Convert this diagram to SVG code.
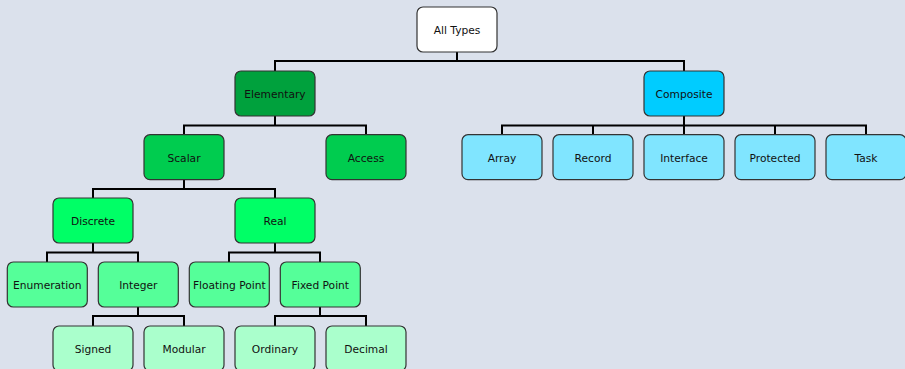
<svg xmlns="http://www.w3.org/2000/svg" width="905" height="369" viewBox="0 0 905 369">
<style>
.n rect{stroke:#333;stroke-width:1.2}
.n text{font-family:"DejaVu Sans",sans-serif;font-size:10.67px;fill:#111;text-anchor:middle;dominant-baseline:central}
.c path{fill:none;stroke:#000;stroke-width:2}
.l0{fill:#fff}.l1{fill:#00a13d}.l2{fill:#00cc4f}.l3{fill:#00ff66}.l4{fill:#55ff99}.l5{fill:#aaffcc}
.c1{fill:#00ccff}.c2{fill:#80e5ff}
</style>
<rect width="905" height="369" fill="#dbe1ec"/>
<g class="c">
<path d="M457 52V61M275 71V61H684V71"/>
<path d="M275 116V125.5M184 134.7V125.5H366V134.7"/>
<path d="M684 116V125.5M502 134.7V125.5H866V134.7M593 125.5V134.7M684 125.5V134.7M775 125.5V134.7"/>
<path d="M184 180V189M93 198V189H275V198"/>
<path d="M93 243V252.5M47 262V252.5H138V262"/>
<path d="M275 243V252.5M229 262V252.5H320V262"/>
<path d="M138 307V316M93 326V316H184V326"/>
<path d="M320 307V316M275 326V316H366V326"/>
</g>
<g id="alltypes" class="n"><rect class="l0" x="417" y="7" width="80" height="45" rx="6"/><text x="457" y="30.5">All Types</text></g>
<g id="elementary" class="n"><rect class="l1" x="235" y="71" width="80" height="45" rx="6"/><text x="275" y="94.5">Elementary</text></g>
<g id="composite" class="n"><rect class="c1" x="644" y="71" width="80" height="45" rx="6"/><text x="684" y="94.5">Composite</text></g>
<g id="scalar" class="n"><rect class="l2" x="144" y="134.7" width="80" height="45" rx="6"/><text x="184" y="158.2">Scalar</text></g>
<g id="access" class="n"><rect class="l2" x="326" y="134.7" width="80" height="45" rx="6"/><text x="366" y="158.2">Access</text></g>
<g id="array" class="n"><rect class="c2" x="462" y="134.7" width="80" height="45" rx="6"/><text x="502" y="158.2">Array</text></g>
<g id="record" class="n"><rect class="c2" x="553" y="134.7" width="80" height="45" rx="6"/><text x="593" y="158.2">Record</text></g>
<g id="interface" class="n"><rect class="c2" x="644" y="134.7" width="80" height="45" rx="6"/><text x="684" y="158.2">Interface</text></g>
<g id="protected" class="n"><rect class="c2" x="735" y="134.7" width="80" height="45" rx="6"/><text x="775" y="158.2">Protected</text></g>
<g id="task" class="n"><rect class="c2" x="826" y="134.7" width="80" height="45" rx="6"/><text x="866" y="158.2">Task</text></g>
<g id="discrete" class="n"><rect class="l3" x="53" y="198" width="80" height="45" rx="6"/><text x="93" y="221.5">Discrete</text></g>
<g id="real" class="n"><rect class="l3" x="235" y="198" width="80" height="45" rx="6"/><text x="275" y="221.5">Real</text></g>
<g id="enumeration" class="n"><rect class="l4" x="7.3" y="262" width="80" height="45" rx="6"/><text x="47.3" y="285.5">Enumeration</text></g>
<g id="integer" class="n"><rect class="l4" x="98.3" y="262" width="80" height="45" rx="6"/><text x="138.3" y="285.5">Integer</text></g>
<g id="floatingpoint" class="n"><rect class="l4" x="189.3" y="262" width="80" height="45" rx="6"/><text x="229.3" y="285.5">Floating Point</text></g>
<g id="fixedpoint" class="n"><rect class="l4" x="280.3" y="262" width="80" height="45" rx="6"/><text x="320.3" y="285.5">Fixed Point</text></g>
<g id="signed" class="n"><rect class="l5" x="53" y="326" width="80" height="45" rx="6"/><text x="93" y="349.5">Signed</text></g>
<g id="modular" class="n"><rect class="l5" x="144" y="326" width="80" height="45" rx="6"/><text x="184" y="349.5">Modular</text></g>
<g id="ordinary" class="n"><rect class="l5" x="235" y="326" width="80" height="45" rx="6"/><text x="275" y="349.5">Ordinary</text></g>
<g id="decimal" class="n"><rect class="l5" x="326" y="326" width="80" height="45" rx="6"/><text x="366" y="349.5">Decimal</text></g>
</svg>
